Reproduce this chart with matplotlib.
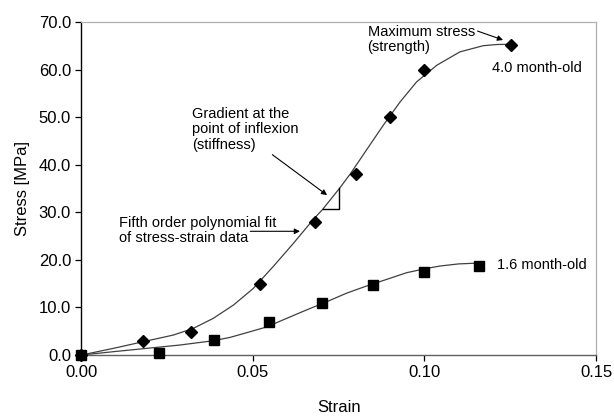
import numpy as np
import matplotlib
matplotlib.use("Agg")
import matplotlib.pyplot as plt

plt.rcParams['font.family'] = ['Liberation Sans', 'DejaVu Sans']

# 4.0 month-old data
strain_40 = [0.0, 0.018, 0.032, 0.052, 0.068, 0.080, 0.090, 0.100, 0.1252]
stress_40 = [0.0, 3.0, 4.9, 15.0, 28.0, 38.0, 50.0, 60.0, 65.1]

# 1.6 month-old data
strain_16 = [0.0, 0.0227, 0.0386, 0.0548, 0.070, 0.085, 0.100, 0.1158]
stress_16 = [0.0, 0.5, 3.1, 7.0, 10.9, 14.7, 17.5, 18.7]

# fifth order polynomial fit curves
fit_x_40 = [0.0, 0.0093, 0.018, 0.0268, 0.0326, 0.0384, 0.0443, 0.0501, 0.0559,
            0.0617, 0.0676, 0.0703, 0.0752, 0.0783, 0.0831, 0.0880, 0.0929,
            0.0977, 0.1036, 0.1103, 0.1171, 0.1210, 0.125]
fit_y_40 = [0.0, 1.4, 2.8, 4.2, 5.6, 7.7, 10.5, 14.0, 18.6,
            23.4, 28.5, 30.6, 35.0, 38.0, 43.1, 48.3, 53.2,
            57.4, 60.9, 63.7, 65.0, 65.25, 65.3]

fit_x_16 = [0.0, 0.0093, 0.019, 0.0287, 0.0384, 0.0433, 0.0482, 0.054, 0.0598,
            0.0657, 0.0715, 0.0773, 0.0831, 0.089, 0.0948, 0.1006, 0.1045,
            0.110, 0.1150]
fit_y_16 = [0.0, 0.7, 1.4, 2.1, 3.0, 3.7, 4.7, 5.9, 7.7,
            9.5, 11.2, 13.0, 14.5, 15.9, 17.3, 18.2, 18.7,
            19.15, 19.3]

xticks = [0.00, 0.05, 0.10, 0.15]
yticks = [0, 10, 20, 30, 40, 50, 60, 70]

fig = plt.figure(figsize=(6.14, 4.19), dpi=100)
ax = fig.add_axes([0.1327, 0.1527, 0.838, 0.795])

ax.plot(fit_x_40, fit_y_40, color='#404040', lw=0.9, zorder=2)
ax.plot(fit_x_16, fit_y_16, color='#404040', lw=0.9, zorder=2)

ax.plot(strain_16, stress_16, 's', color='black', ms=6.5, zorder=3, clip_on=False)
ax.plot(strain_40, stress_40, 'D', color='black', ms=6, zorder=4, clip_on=False)

# stiffness triangle
tx0, tx1, ty0, ty1 = 0.0703, 0.0752, 30.6, 35.0
ax.plot([tx0, tx1, tx1], [ty0, ty0, ty1], color='black', lw=1.0, zorder=3)

ax.set_xlim(0, 0.15)
ax.set_ylim(0, 70)
ax.set_xticks(xticks)
ax.set_xticklabels(['%.2f' % v for v in xticks])
ax.set_yticks(yticks)
ax.set_yticklabels(['%.1f' % v for v in yticks])
ax.tick_params(labelsize=12, length=4, width=0.9, direction='out', color='black')
ax.set_xlabel('Strain', fontsize=12, labelpad=14)
ax.set_ylabel('Stress [MPa]', fontsize=12, labelpad=6)

for s in ['top', 'right']:
    ax.spines[s].set_color('#b0b0b0')
    ax.spines[s].set_linewidth(0.9)
ax.spines['left'].set_color('black')
ax.spines['bottom'].set_color('#606060')
ax.spines['left'].set_linewidth(1.0)
ax.spines['bottom'].set_linewidth(1.0)

afont = dict(fontsize=10.5, color='black')
arrow = dict(arrowstyle='-|>', color='black', lw=0.8, mutation_scale=8,
             shrinkA=0, shrinkB=0)

ax.annotate('Maximum stress\n(strength)', xy=(0.1229, 66.2), xytext=(0.0834, 69.4),
            ha='left', va='top', arrowprops=dict(arrow, relpos=(1.0, 0.82)),
            linespacing=1.15, **afont)
ax.text(0.1196, 60.3, '4.0 month-old', ha='left', va='center', **afont)

ax.annotate('Gradient at the\npoint of inflexion\n(stiffness)', xy=(0.0716, 33.6),
            xytext=(0.0322, 52.2), ha='left', va='top',
            arrowprops=dict(arrow, relpos=(0.72, 0.0)), linespacing=1.15, **afont)

ax.annotate('', xy=(0.0637, 26.0), xytext=(0.0492, 26.0), arrowprops=arrow)
ax.text(0.0108, 29.3, 'Fifth order polynomial fit\nof stress-strain data',
        ha='left', va='top', linespacing=1.15, **afont)

ax.text(0.1210, 18.9, '1.6 month-old', ha='left', va='center', **afont)

fig.savefig('out.png', dpi=100)
